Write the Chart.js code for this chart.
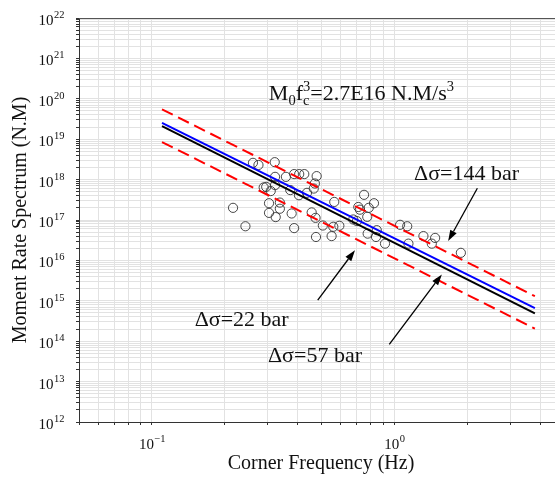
<!DOCTYPE html>
<html lang="en">
<head>
<meta charset="UTF-8">
<title>Moment Rate Spectrum vs Corner Frequency</title>
<script src="https://cdn.jsdelivr.net/npm/chart.js"></script>
<style>
  html, body { margin: 0; padding: 0; background: #fff; overflow: hidden; }
  canvas { display: block; }
</style>
</head>
<body>
<canvas id="chart" width="555" height="477"></canvas>
<script>
// observed events (corner frequency in Hz, moment rate level in N.M)
const cornerFreq = [
  0.216, 0.243, 0.261, 0.275, 0.321, 0.322, 0.289, 0.296, 0.309, 0.322,
  0.304, 0.304, 0.337, 0.337, 0.324, 0.357, 0.386, 0.405, 0.425, 0.372,
  0.404, 0.436, 0.377, 0.386, 0.478, 0.470, 0.465, 0.456, 0.473, 0.507,
  0.475, 0.551, 0.565, 0.560, 0.593, 0.750, 0.824, 0.710, 0.721, 0.784,
  0.773, 0.677, 0.701, 0.846, 0.840, 0.776, 0.915, 1.056, 1.130, 1.318,
  1.473, 1.427, 1.143, 1.881
];
const momentRate = [
  2.0e17, 7.0e16, 2.6e18, 2.3e18, 2.7e18, 1.17e18, 6.4e17, 6.6e17, 5.2e17, 7.3e17,
  2.6e17, 1.5e17, 2.7e17, 1.9e17, 1.18e17, 1.17e18, 1.37e18, 1.37e18, 1.37e18, 5.5e17,
  4.1e17, 4.7e17, 1.45e17, 6.3e16, 1.22e18, 8.0e17, 6.0e17, 1.54e17, 1.13e17, 7.3e16,
  3.8e16, 4.0e16, 2.8e17, 6.8e16, 7.2e16, 4.2e17, 2.6e17, 2.1e17, 1.8e17, 2.0e17,
  1.2e17, 1.03e17, 9.4e16, 5.6e16, 3.8e16, 4.6e16, 2.6e16, 7.6e16, 7.0e16, 4.0e16,
  3.6e16, 2.6e16, 2.6e16, 1.54e16
];

// model lines, read at both ends
const lineFreq = [0.11, 3.8];
const meanLine = [2.1e19, 4.9e14];    // M0 fc^3 = 2.7E16
const blueLine = [2.55e19, 6.6e14];
const upperLine = [5.5e19, 1.3e15];   // 144 bar
const lowerLine = [8.5e18, 2.05e14];  // 22 bar

// labelled decades
const xDecades = [-1, 0];
const yDecades = [12, 13, 14, 15, 16, 17, 18, 19, 20, 21, 22];

const FONT = '"Liberation Serif", "Times New Roman", serif';

function pairs(xs, ys) {
  return xs.map((v, i) => ({ x: v, y: ys[i] }));
}

// 1..9 x 10^n inside the axis range
function logTicks(scale) {
  const out = [];
  const lo = Math.floor(Math.log10(scale.min));
  const hi = Math.ceil(Math.log10(scale.max));
  for (let e = lo; e <= hi; e++) {
    for (let m = 1; m <= 9; m++) {
      const v = Number((m * Math.pow(10, e)).toPrecision(6));
      if (v >= scale.min * 0.9999 && v <= scale.max * 1.0001) out.push({ value: v });
    }
  }
  scale.ticks = out;
}

function drawPower(ctx, exp, xPos, base, align) {
  ctx.font = '15px ' + FONT;
  const w1 = ctx.measureText('10').width;
  ctx.font = '10.5px ' + FONT;
  const w2 = ctx.measureText(exp).width;
  const left = align === 'right' ? xPos - w1 - w2 : xPos - (w1 + w2) / 2;
  ctx.textAlign = 'left';
  ctx.textBaseline = 'alphabetic';
  ctx.font = '15px ' + FONT;
  ctx.fillText('10', left, base);
  ctx.font = '10.5px ' + FONT;
  ctx.fillText(exp, left + w1 + 0.5, base - 7);
}

function arrow(ctx, x0, y0, x1, y1) {
  const ang = Math.atan2(y1 - y0, x1 - x0);
  const len = 11, half = 3.6;
  const bx = x1 - len * Math.cos(ang), by = y1 - len * Math.sin(ang);
  ctx.beginPath();
  ctx.moveTo(x0, y0);
  ctx.lineTo(bx, by);
  ctx.stroke();
  ctx.beginPath();
  ctx.moveTo(x1, y1);
  ctx.lineTo(bx + half * Math.sin(ang), by - half * Math.cos(ang));
  ctx.lineTo(bx - half * Math.sin(ang), by + half * Math.cos(ang));
  ctx.closePath();
  ctx.fill();
}

// text and arrows, anchored in data units
const notes = [
  { f: 1.206, m: 9.7e17, text: 'Δσ=144 bar' },
  { f: 0.150, m: 2.4e14, text: 'Δσ=22 bar' },
  { f: 0.301, m: 3.0e13, text: 'Δσ=57 bar' }
];
const arrows = [
  { from: [2.2, 6.1e17], to: [1.667, 3.0e16] },
  { from: [0.483, 1.04e15], to: [0.688, 1.79e16] },
  { from: [0.953, 8.3e13], to: [1.57, 4.5e15] }
];
const formulaAt = { f: 0.3035, m: 9.6e19 };

const decorations = {
  id: 'decorations',
  afterDraw(chart) {
    const { ctx, chartArea: a, scales: { x, y } } = chart;
    ctx.save();
    ctx.fillStyle = '#111';

    // top frame line
    ctx.strokeStyle = '#555';
    ctx.lineWidth = 1;
    ctx.beginPath();
    ctx.moveTo(a.left, a.top + 0.5);
    ctx.lineTo(a.right, a.top + 0.5);
    ctx.stroke();

    // tick labels
    yDecades.forEach(e => drawPower(ctx, String(e), 64, y.getPixelForValue(Math.pow(10, e)) + 7, 'right'));
    xDecades.forEach(e => drawPower(ctx, String(e).replace('-', '\u2212'), x.getPixelForValue(Math.pow(10, e)), a.bottom + 27, 'center'));

    // axis titles
    ctx.font = '20px ' + FONT;
    ctx.textAlign = 'center';
    ctx.textBaseline = 'middle';
    ctx.fillText('Corner Frequency (Hz)', 321, 464);
    ctx.save();
    ctx.translate(21, 220);
    ctx.rotate(-Math.PI / 2);
    ctx.fillText('Moment Rate Spectrum (N.M)', 0, 0);
    ctx.restore();

    // formula
    ctx.textAlign = 'left';
    ctx.textBaseline = 'alphabetic';
    let px = x.getPixelForValue(formulaAt.f);
    const py = y.getPixelForValue(formulaAt.m);
    const big = '22px ' + FONT, small = '14.5px ' + FONT;
    const put = (s, font, dy) => {
      ctx.font = font;
      ctx.fillText(s, px, py + dy);
      return ctx.measureText(s).width;
    };
    px += put('M', big, 0);
    px += put('0', small, 5);
    px += put('f', big, 0);
    const w3 = put('3', small, -9);
    const wc = put('c', small, 5);
    px += Math.max(w3, wc);
    px += put('=2.7E16 N.M/s', big, 0);
    put('3', small, -9);

    // stress drop labels
    ctx.font = big;
    notes.forEach(n => ctx.fillText(n.text, x.getPixelForValue(n.f), y.getPixelForValue(n.m)));

    ctx.strokeStyle = '#000';
    ctx.fillStyle = '#000';
    ctx.lineWidth = 1.3;
    arrows.forEach(r => arrow(ctx,
      x.getPixelForValue(r.from[0]), y.getPixelForValue(r.from[1]),
      x.getPixelForValue(r.to[0]), y.getPixelForValue(r.to[1])));
    ctx.restore();
  }
};

const lineStyle = { showLine: true, pointRadius: 0, fill: false, order: 1 };

new Chart(document.getElementById('chart'), {
  type: 'scatter',
  data: {
    datasets: [
      { ...lineStyle, data: pairs(lineFreq, upperLine), borderColor: '#ff0000', borderWidth: 2, borderDash: [12, 6] },
      { ...lineStyle, data: pairs(lineFreq, lowerLine), borderColor: '#ff0000', borderWidth: 2, borderDash: [12, 6] },
      { ...lineStyle, data: pairs(lineFreq, blueLine), borderColor: '#0000ff', borderWidth: 2 },
      { ...lineStyle, data: pairs(lineFreq, meanLine), borderColor: '#000000', borderWidth: 2 },
      {
        data: pairs(cornerFreq, momentRate),
        pointRadius: 4.6,
        pointBorderWidth: 0.9,
        pointBorderColor: '#333',
        pointBackgroundColor: 'rgba(255,255,255,0)',
        order: 2
      }
    ]
  },
  options: {
    responsive: false,
    animation: false,
    layout: { autoPadding: false, padding: { left: 76, top: 18, right: 0, bottom: 52 } },
    plugins: { legend: { display: false }, tooltip: { enabled: false } },
    scales: {
      x: {
        type: 'logarithmic',
        min: 0.05,
        max: 4.6,
        afterBuildTicks: logTicks,
        ticks: { display: false, autoSkip: false },
        grid: { color: '#e2e2e2', tickLength: 3, tickColor: '#333' },
        border: { color: '#333', width: 1 }
      },
      y: {
        type: 'logarithmic',
        min: 1e12,
        max: 1e22,
        afterBuildTicks: logTicks,
        ticks: { display: false, autoSkip: false },
        grid: { color: '#e2e2e2', tickLength: 3, tickColor: '#333' },
        border: { color: '#333', width: 1 }
      }
    }
  },
  plugins: [decorations]
});
</script>
</body>
</html>
